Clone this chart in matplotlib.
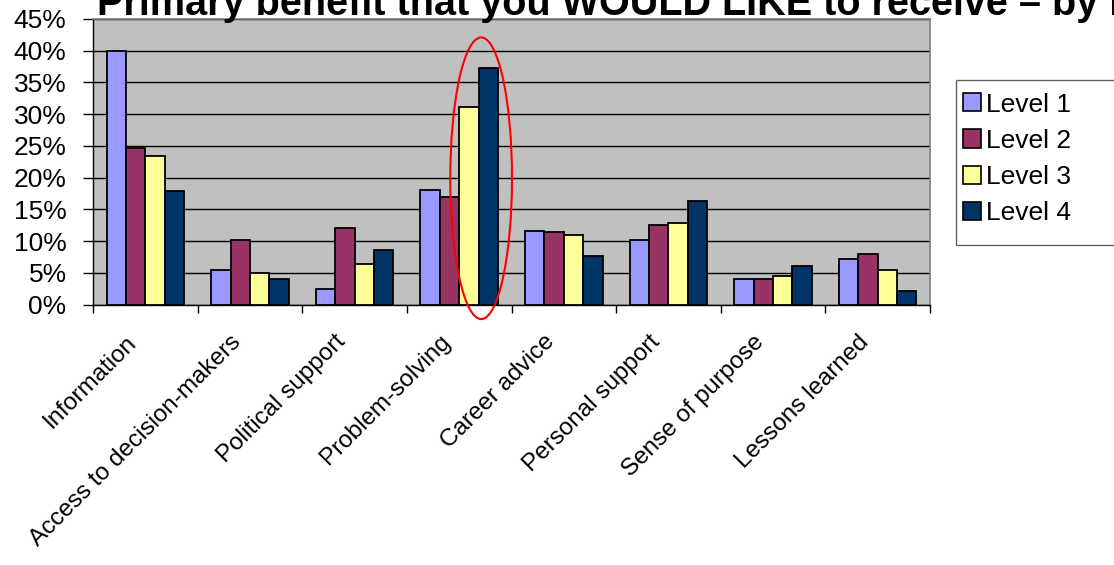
import matplotlib
matplotlib.use("Agg")
import matplotlib.pyplot as plt
from matplotlib.patches import Ellipse, Patch, Rectangle
from matplotlib.ticker import FixedLocator, PercentFormatter
from matplotlib.transforms import ScaledTranslation
import numpy as np

categories = ["Information", "Access to decision-makers", "Political support",
              "Problem-solving", "Career advice", "Personal support",
              "Sense of purpose", "Lessons learned"]
level_names = ["Level 1", "Level 2", "Level 3", "Level 4"]
level_1 = [40.0, 5.5, 2.4, 18.1, 11.6, 10.1, 4.0, 7.1]
level_2 = [24.7, 10.1, 12.0, 16.9, 11.4, 12.6, 4.0, 8.0]
level_3 = [23.4, 4.9, 6.4, 31.1, 11.0, 12.9, 4.5, 5.5]
level_4 = [17.9, 4.0, 8.6, 37.2, 7.6, 16.3, 6.1, 2.1]
y_ticks = [0, 5, 10, 15, 20, 25, 30, 35, 40, 45]
title = "Primary benefit that you WOULD LIKE to receive \u2013 by level"

colors = ["#9999FF", "#993366", "#FFFF99", "#003366"]
series = [level_1, level_2, level_3, level_4]

plt.rcParams["font.family"] = ["Liberation Sans", "DejaVu Sans"]

W, H = 1114, 565
fig = plt.figure(figsize=(W / 100, H / 100), dpi=100)
ax = fig.add_axes([93 / W, 260.5 / H, 837 / W, 285.5 / H])
ax.set_facecolor("#C0C0C0")

n = len(categories)
centers = np.arange(n) + 0.5
bw = 0.185
for i, (vals, col, name) in enumerate(zip(series, colors, level_names)):
    ax.bar(centers + (i - 1.5) * bw, vals, width=bw, color=col,
           edgecolor="black", linewidth=1.3, label=name, zorder=3)

ax.set_xlim(0, n)
ax.set_ylim(0, 45)
ax.set_yticks(y_ticks)
ax.yaxis.set_major_formatter(PercentFormatter(decimals=0))
ax.tick_params(axis="y", labelsize=19, length=7, width=1, direction="out", pad=12)
ax.yaxis.grid(True, color="black", linewidth=1.0, zorder=1)
ax.set_axisbelow(True)

ax.xaxis.set_major_locator(FixedLocator(np.arange(n + 1)))
ax.tick_params(axis="x", which="major", length=6, width=1, labelbottom=False)
ax.set_xticks(centers, minor=True)
ax.set_xticklabels(categories, minor=True, rotation=45, ha="right",
                   rotation_mode="anchor")
ax.tick_params(axis="x", which="minor", length=0, labelsize=17.5, pad=14)
shift = ScaledTranslation(-0.20, -0.07, fig.dpi_scale_trans)
for lbl in ax.get_xticklabels(minor=True):
    lbl.set_transform(lbl.get_transform() + shift)

for side in ("top", "right"):
    ax.spines[side].set_color("#808080")
    ax.spines[side].set_linewidth(1.2)
for side in ("left", "bottom"):
    ax.spines[side].set_color("black")
    ax.spines[side].set_linewidth(1.0)

# Highlight around the problem-solving group
ell = Ellipse((3.71, 19.9), width=0.59, height=44.4, fill=False,
              edgecolor="red", linewidth=1.5, clip_on=False, zorder=5)
ax.add_patch(ell)

fig.text(97 / W, 1 - 15 / H, title, fontsize=28.5, fontweight="bold",
         ha="left", va="baseline")

# Legend frame runs past the right edge of the figure
fig.patches.append(Rectangle((956 / W, 1 - 245 / H), 200 / W, 165 / H,
                             transform=fig.transFigure, facecolor="white",
                             edgecolor="#606060", linewidth=1.0))
handles = [Patch(facecolor=c, edgecolor="black", linewidth=1.2) for c in colors]
leg = fig.legend(handles, level_names, loc="upper left",
                 bbox_to_anchor=(960 / W, 1 - 90 / H),
                 prop=dict(family="Liberation Sans", size=19), frameon=False,
                 handlelength=0.68, handleheight=0.68, handletextpad=0.2,
                 labelspacing=0.46, borderpad=0.1, borderaxespad=0)

fig.savefig("out.png", dpi=100)
